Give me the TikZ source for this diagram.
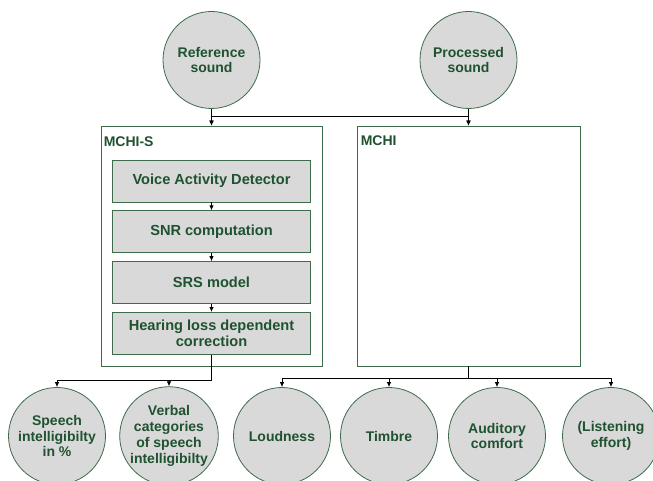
\documentclass[tikz,border=0pt]{standalone}
\usepackage{fontspec}
\setmainfont{Liberation Sans}
\usetikzlibrary{shapes}
\usetikzlibrary{positioning}
\usetikzlibrary{arrows.meta}
\definecolor{darkgreen}{RGB}{31,82,48}
\definecolor{edgegreen}{RGB}{62,108,74}
\definecolor{fillgray}{RGB}{217,217,217}
\tikzstyle{boldtext} = [text=darkgreen, font=\fontsize{14}{15.8}\selectfont\bfseries]
\tikzstyle{sound} = [boldtext,circle,fill=fillgray,draw=edgegreen,line width=0.8pt,
minimum size=97pt,inner sep=0pt,align=center]
\tikzstyle{measure} = [sound]
\tikzstyle{model} = [rectangle,draw=edgegreen,fill=white,line width=0.8pt,
minimum height=240pt]
\tikzstyle{stage} = [boldtext,rectangle,fill=fillgray,draw=edgegreen,line width=0.8pt,
minimum width=198pt,minimum height=42pt,align=center,node distance=8pt,
font=\fontsize{14.6}{16}\selectfont\bfseries]
\tikzstyle{caption} = [boldtext,anchor=base west,inner sep=0pt]
\tikzset{>={Latex[length=5pt,width=4.5pt]}}
\newcommand{\fanedge}[3]{ %
  % Run node #1 down by #2, then across to every node in #3.
  \foreach \y in {#3} { %
    \draw[->,line width=0.8pt] (#1.south) -- ++(0,#2) -| (\y.north) ;%
  } ;
}

\begin{document}
\begin{tikzpicture}[x=1pt,y=-1pt]
  \useasboundingbox (0,0) rectangle (653,481);

  \node[sound] (ref) at (211.5,60) {Reference\\sound};
  \node[sound] (proc) at (468.5,60) {Processed\\sound};

  \node[model, minimum width=221pt] (mchis) at (211.5,246) {};
  \node[model, minimum width=223pt] (mchi) at (468.5,246) {};
  \node[caption] at ([shift={(3,21)}]mchis.north west) {MCHI-S};
  \node[caption] at ([shift={(4,20)}]mchi.north west) {MCHI};

  \node[stage] (vad) at (211.5,181) {Voice Activity Detector};
  \node[stage, below=of vad] (snr) {SNR computation};
  \node[stage, below=of snr] (srs) {SRS model};
  \node[stage, below=of srs] (hlc) {Hearing loss dependent\\correction};

  \node[measure] (speech) at (57,436) {Speech\\intelligibilty\\in \%};
  \node[measure] (verbal) at (169,436) {Verbal\\categories\\of speech\\intelligibilty};
  \node[measure] (loud) at (282,436) {Loudness};
  \node[measure] (timbre) at (389,436) {Timbre};
  \node[measure] (comfort) at (497,436) {Auditory\\comfort};
  \node[measure] (effort) at (611,436) {(Listening\\effort)};

  \begin{scope}[line width=0.8pt]
    \draw[->] (ref) -- (mchis);
    \draw[->] (proc) -- (mchi);
    \draw[->] (ref.south) -- ++(0,8) -| (mchi.north);
    \draw[->] (proc.south) -- ++(0,8) -| (mchis.north);
    \draw[->] (vad) -- (snr);
    \draw[->] (snr) -- (srs);
    \draw[->] (srs) -- (hlc);
  \end{scope}

  \fanedge{hlc}{26}{speech,verbal}
  \fanedge{mchi}{12}{loud,timbre,comfort,effort}
\end{tikzpicture}
\end{document}
